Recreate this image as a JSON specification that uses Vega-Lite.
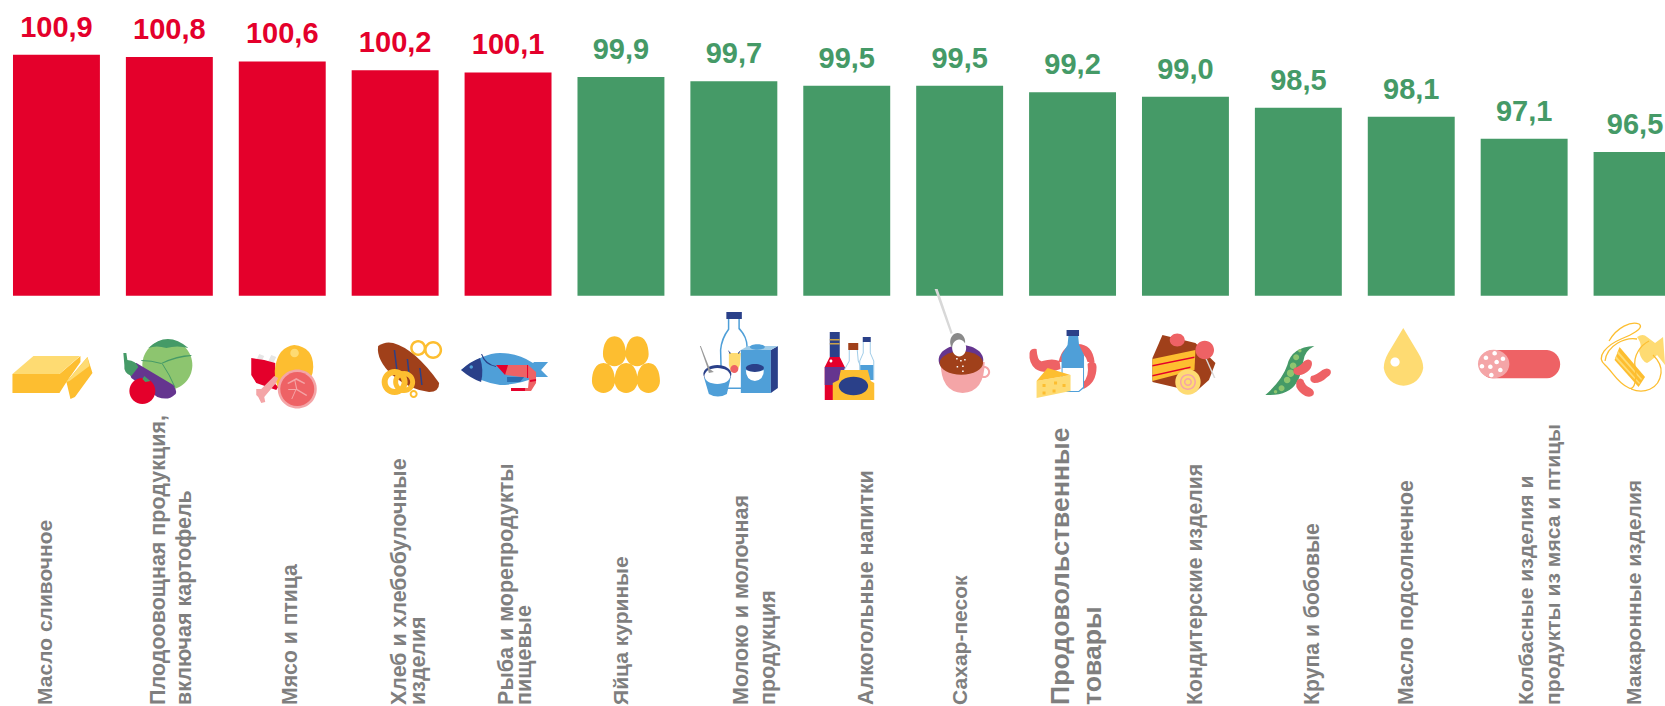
{
"$schema":"https://vega.github.io/schema/vega-lite/v6.json",
"width":1665,"height":706,"autosize":"none","padding":0,"background":"white",
"config":{"view":{"stroke":null},"font":"Liberation Sans"},
"datasets":{
"bars":[
{"rank":1,"category":"Масло сливочное","value":100.9,"text":"100,9","direction":"рост"},
{"rank":2,"category":"Плодоовощная продукция,\nвключая картофель","value":100.8,"text":"100,8","direction":"рост"},
{"rank":3,"category":"Мясо и птица","value":100.6,"text":"100,6","direction":"рост"},
{"rank":4,"category":"Хлеб и хлебобулочные\nизделия","value":100.2,"text":"100,2","direction":"рост"},
{"rank":5,"category":"Рыба и морепродукты\nпищевые","value":100.1,"text":"100,1","direction":"рост"},
{"rank":6,"category":"Яйца куриные","value":99.9,"text":"99,9","direction":"снижение"},
{"rank":7,"category":"Молоко и молочная\nпродукция","value":99.7,"text":"99,7","direction":"снижение"},
{"rank":8,"category":"Алкогольные напитки","value":99.5,"text":"99,5","direction":"снижение"},
{"rank":9,"category":"Сахар-песок","value":99.5,"text":"99,5","direction":"снижение"},
{"rank":10,"category":"Продовольственные\nтовары","value":99.2,"text":"99,2","direction":"снижение"},
{"rank":11,"category":"Кондитерские изделия","value":99.0,"text":"99,0","direction":"снижение"},
{"rank":12,"category":"Крупа и бобовые","value":98.5,"text":"98,5","direction":"снижение"},
{"rank":13,"category":"Масло подсолнечное","value":98.1,"text":"98,1","direction":"снижение"},
{"rank":14,"category":"Колбасные изделия и\nпродукты из мяса и птицы","value":97.1,"text":"97,1","direction":"снижение"},
{"rank":15,"category":"Макаронные изделия","value":96.5,"text":"96,5","direction":"снижение"}
],
"icons":[
{"category":"Масло сливочное","part":"but_d"},{"category":"Масло сливочное","part":"but_l"},
{"category":"Плодоовощная продукция,\nвключая картофель","part":"cab"},{"category":"Плодоовощная продукция,\nвключая картофель","part":"cabd"},{"category":"Плодоовощная продукция,\nвключая картофель","part":"egp"},{"category":"Плодоовощная продукция,\nвключая картофель","part":"stem"},{"category":"Плодоовощная продукция,\nвключая картофель","part":"tom"},{"category":"Плодоовощная продукция,\nвключая картофель","part":"leaf"},
{"category":"Мясо и птица","part":"btop"},{"category":"Мясо и птица","part":"ribs"},{"category":"Мясо и птица","part":"chick"},{"category":"Мясо и птица","part":"chih"},{"category":"Мясо и птица","part":"bone"},{"category":"Мясо и птица","part":"mring"},{"category":"Мясо и птица","part":"mein"},{"category":"Мясо и птица","part":"mvein"},
{"category":"Хлеб и хлебобулочные\nизделия","part":"pretz"},{"category":"Хлеб и хлебобулочные\nизделия","part":"bread"},{"category":"Хлеб и хлебобулочные\nизделия","part":"score"},{"category":"Хлеб и хлебобулочные\nизделия","part":"bagel"},
{"category":"Рыба и морепродукты\nпищевые","part":"fish"},{"category":"Рыба и морепродукты\nпищевые","part":"fhead"},{"category":"Рыба и морепродукты\nпищевые","part":"feye"},{"category":"Рыба и морепродукты\nпищевые","part":"shr"},{"category":"Рыба и морепродукты\nпищевые","part":"shrr"},{"category":"Рыба и морепродукты\nпищевые","part":"whisk"},{"category":"Рыба и морепродукты\nпищевые","part":"legs"},
{"category":"Яйца куриные","part":"eggs"},
{"category":"Молоко и молочная\nпродукция","part":"mbo"},{"category":"Молоко и молочная\nпродукция","part":"mbi"},{"category":"Молоко и молочная\nпродукция","part":"mcap"},{"category":"Молоко и молочная\nпродукция","part":"cow"},{"category":"Молоко и молочная\nпродукция","part":"nose"},{"category":"Молоко и молочная\nпродукция","part":"horn"},{"category":"Молоко и молочная\nпродукция","part":"cart"},{"category":"Молоко и молочная\nпродукция","part":"cars"},{"category":"Молоко и молочная\nпродукция","part":"cart_t"},{"category":"Молоко и молочная\nпродукция","part":"ccap"},{"category":"Молоко и молочная\nпродукция","part":"cupd"},{"category":"Молоко и молочная\nпродукция","part":"cupw"},{"category":"Молоко и молочная\nпродукция","part":"yog"},{"category":"Молоко и молочная\nпродукция","part":"yogd"},{"category":"Молоко и молочная\nпродукция","part":"yogw"},{"category":"Молоко и молочная\nпродукция","part":"yogs"},
{"category":"Алкогольные напитки","part":"wine"},{"category":"Алкогольные напитки","part":"wlab"},{"category":"Алкогольные напитки","part":"wneck"},{"category":"Алкогольные напитки","part":"wstr"},{"category":"Алкогольные напитки","part":"wdot"},{"category":"Алкогольные напитки","part":"b2o"},{"category":"Алкогольные напитки","part":"b2i"},{"category":"Алкогольные напитки","part":"b2c"},{"category":"Алкогольные напитки","part":"b3o"},{"category":"Алкогольные напитки","part":"b3i"},{"category":"Алкогольные напитки","part":"b3l"},{"category":"Алкогольные напитки","part":"b3c"},{"category":"Алкогольные напитки","part":"box"},{"category":"Алкогольные напитки","part":"boxe"},
{"category":"Сахар-песок","part":"spoon"},{"category":"Сахар-песок","part":"cupp"},{"category":"Сахар-песок","part":"cup"},{"category":"Сахар-песок","part":"hand"},{"category":"Сахар-песок","part":"cof"},{"category":"Сахар-песок","part":"spb"},{"category":"Сахар-песок","part":"sug"},{"category":"Сахар-песок","part":"sugd"},
{"category":"Продовольственные\nтовары","part":"saus"},{"category":"Продовольственные\nтовары","part":"mix_b"},{"category":"Продовольственные\nтовары","part":"mix_w"},{"category":"Продовольственные\nтовары","part":"mix_c"},{"category":"Продовольственные\nтовары","part":"chef"},{"category":"Продовольственные\nтовары","part":"chet"},{"category":"Продовольственные\nтовары","part":"cheh"},
{"category":"Кондитерские изделия","part":"cake"},{"category":"Кондитерские изделия","part":"layer"},{"category":"Кондитерские изделия","part":"strp"},{"category":"Кондитерские изделия","part":"stick"},{"category":"Кондитерские изделия","part":"cher"},{"category":"Кондитерские изделия","part":"roll"},{"category":"Кондитерские изделия","part":"swirl"},
{"category":"Крупа и бобовые","part":"pod"},{"category":"Крупа и бобовые","part":"peas"},{"category":"Крупа и бобовые","part":"beans"},
{"category":"Масло подсолнечное","part":"drop"},{"category":"Масло подсолнечное","part":"dropw"},
{"category":"Колбасные изделия и\nпродукты из мяса и птицы","part":"sal"},{"category":"Колбасные изделия и\nпродукты из мяса и птицы","part":"salf"},{"category":"Колбасные изделия и\nпродукты из мяса и птицы","part":"sald"},
{"category":"Макаронные изделия","part":"bow"},{"category":"Макаронные изделия","part":"pen"},{"category":"Макаронные изделия","part":"pens"}
]
},
"encoding":{
"x":{"field":"category","type":"nominal","axis":null,"sort":null,"scale":{"type":"band","range":[0,1693.5],"paddingInner":0.23,"paddingOuter":0.115,"domain":["Масло сливочное","Плодоовощная продукция,\nвключая картофель","Мясо и птица","Хлеб и хлебобулочные\nизделия","Рыба и морепродукты\nпищевые","Яйца куриные","Молоко и молочная\nпродукция","Алкогольные напитки","Сахар-песок","Продовольственные\nтовары","Кондитерские изделия","Крупа и бобовые","Масло подсолнечное","Колбасные изделия и\nпродукты из мяса и птицы","Макаронные изделия"]}}
},
"resolve":{"scale":{"color":"independent","shape":"independent"}},
"layer":[
{"data":{"name":"bars"},"mark":{"type":"bar"},
"encoding":{
"y":{"field":"value","type":"quantitative","axis":null,"scale":{"domain":[71.43,103.38],"nice":false,"zero":false}},
"y2":{"datum":90},
"color":{"field":"direction","type":"nominal","legend":null,"scale":{"domain":["рост","снижение"],"range":["#E4002B","#459A67"]}}
}},
{"data":{"name":"bars"},"mark":{"type":"text","font":"Liberation Sans","fontWeight":"bold","fontSize":29,"baseline":"alphabetic","align":"center","dy":-18,"dx":{"expr":"datum.rank==15?-2:0"}},
"encoding":{
"y":{"field":"value","type":"quantitative"},
"text":{"field":"text"},
"color":{"field":"direction","type":"nominal","legend":null,"scale":{"domain":["рост","снижение"],"range":["#E4002B","#459A67"]}}
}},
{"data":{"name":"bars"},"mark":{"type":"text","font":"Liberation Sans","fontWeight":"bold","color":"#7F7F7F","angle":270,"align":"left","baseline":"middle","lineBreak":"\n",
"fontSize":{"expr":"[21,21.5,21.2,21.4,21.5,21,21.5,21.4,21,26.6,21.2,21.2,21.3,21.1,21][datum.rank-1]"},
"lineHeight":{"expr":"[20,26,20,19,18,20,27,20,20,32,20,20,20,27.6,20][datum.rank-1]"},
"dy":{"expr":"[-10.5,-10.7,8.5,4.5,-1.5,1.5,8.5,20.5,1.5,-12,10.5,14.5,-4.5,2.5,-2.5][datum.rank-1]"}},
"encoding":{
"y":{"datum":71.48},
"text":{"field":"category"}
}},
{"data":{"name":"icons"},"mark":{"type":"point","filled":true,"size":4,"opacity":1,"strokeWidth":0},
"encoding":{
"y":{"datum":86.41},
"color":{"field":"part","type":"nominal","legend":null,"scale":{
"domain":["but_d","but_l","cab","cabd","egp","stem","tom","leaf","btop","ribs","chick","chih","bone","mring","mein","mvein","pretz","bread","score","bagel","fish","fhead","feye","shr","shrr","whisk","legs","eggs","mbo","mbi","mcap","cow","nose","horn","cart","cars","cart_t","ccap","cupd","cupw","yog","yogd","yogw","yogs","wine","wlab","wneck","wstr","wdot","b2o","b2i","b2c","b3o","b3i","b3l","b3c","box","boxe","spoon","cupp","cup","hand","cof","spb","sug","sugd","saus","mix_b","mix_w","mix_c","chef","chet","cheh","cake","layer","strp","stick","cher","roll","swirl","pod","peas","beans","drop","dropw","sal","salf","sald","bow","pen","pens"],
"range":["#FDBE30","#FEDB72","#8DC56F","#459A67","#65358F","#459A67","#E4002B","#459A67","#E6E6E6","#E4002B","#FDBE30","#FEDB72","#F4A5A7","#F4A5A7","#EE6265","#F4A5A7","#FDBE30","#A0401A","#2A4089","#FDBE30","#4F9FD8","#2A4089","#4F9FD8","#EE6265","#E4002B","#2A4089","#2A6DB0","#FDBE30","#4F9FD8","#FFFFFF","#2A4089","#FEDB72","#EE6265","#2A4089","#4F9FD8","#2A4089","#A0CCE8","#4F9FD8","#2A4089","#FFFFFF","#4F9FD8","#2A4089","#FFFFFF","#9A9A9A","#E4002B","#65358F","#2A4089","#C9A24A","#FFFFFF","#A0CCE8","#FFFFFF","#A0401A","#A0CCE8","#FFFFFF","#4F9FD8","#2A4089","#FDBE30","#2A4089","#D8D8D8","#65358F","#F4A5A7","#F4A5A7","#A0401A","#8A8A8A","#FFFFFF","#FFFFFF","#EE6265","#4F9FD8","#FFFFFF","#2A4089","#FEDB72","#FDBE30","#FDBE30","#A0401A","#FDBE30","#E4002B","#D8D8D8","#EE6265","#FEDB72","#F4A5A7","#459A67","#8DC56F","#EE6265","#FEDB72","#FFFFFF","#EE6265","#F4A5A7","#FFFFFF","#FEDB72","#FDBE30","#FEDB72"]}},
"shape":{"field":"part","type":"nominal","legend":null,"scale":{
"domain":["but_d","but_l","cab","cabd","egp","stem","tom","leaf","btop","ribs","chick","chih","bone","mring","mein","mvein","pretz","bread","score","bagel","fish","fhead","feye","shr","shrr","whisk","legs","eggs","mbo","mbi","mcap","cow","nose","horn","cart","cars","cart_t","ccap","cupd","cupw","yog","yogd","yogw","yogs","wine","wlab","wneck","wstr","wdot","b2o","b2i","b2c","b3o","b3i","b3l","b3c","box","boxe","spoon","cupp","cup","hand","cof","spb","sug","sugd","saus","mix_b","mix_w","mix_c","chef","chet","cheh","cake","layer","strp","stick","cher","roll","swirl","pod","peas","beans","drop","dropw","sal","salf","sald","bow","pen","pens"],
"range":[
"M-44,-1L3,-1L24,-19L24,-13L10,7L3,18L-44,18ZM31,-18L36,-2L18.5,22L14,24L10,7Z",
"M-44,-1L-23,-19L23.5,-19L3,-1ZM10,7L31,-18L33,-9L13,6Z",
"M-27,-10a25,25 0 1 0 50,0a25,25 0 1 0 -50,0z",
"M-21,-27Q-2,-45 19,-27Q8,-30 -3,-27Q-13,-30 -21,-27ZM-28,-15Q-18,-15 -8,-12Q8,-20 22,-20L22,-19Q8,-18 -8,-11Q-18,-14 -28,-14ZM-8,-12Q0,0 5,12L6,12Q1,0 -7,-12Z",
"M-41,-5Q-38,-12 -33,-12L4,10Q9,18 5,20Q-1,26 -12,22L-38,3Z",
"M-46,-22L-43,-22L-42,-15Q-33,-14 -31,-8L-38,1Q-46,-2 -45,-10Z",
"M-40,16a13,13 0 1 0 26,0a13,13 0 1 0 -26,0z",
"M-27,4L-25,1L-19,6L-24,7Z",
"M-23,-21L-18,-19L-21,-13L-26,-15ZM-11,-20L-6,-18L-9,-12L-14,-14Z",
"M-31,-17L-18,-15L-7,-12L-7,9L-4,12L-6,15L-26,8L-31,0Z",
"M12,-30Q31,-28 31,-8Q31,5 20,12L-4,14Q-9,0 -7,-8Q-4,-28 12,-30Z",
"M8,-22a4.3,4.3 0 1 0 8.6,0a4.3,4.3 0 1 0 -8.6,0z",
"M-26,14L-21,14L-8,1L-4,3L-7,9L-18,22L-17,27L-21,28L-24,22L-26,20Z",
"M-4.5,14a19.5,19.5 0 1 0 39,0a19.5,19.5 0 1 0 -39,0z",
"M-2,14a17,17 0 1 0 34,0a17,17 0 1 0 -34,0z",
"M5,8L14,3L23,8L22,9L14,5L6,9ZM13,5L15,14L25,20L24,21L14,15L12,5ZM6,14L14,14L14,15L10,24L9,24L13,15L6,15Z",
"M15,-27a8,8 0 1 0 16,0a8,8 0 1 0 -16,0zM17.5,-27a5.5,5.5 0 1 1 11,0a5.5,5.5 0 1 1 -11,0zM29,-25a9,9 0 1 0 18,0a9,9 0 1 0 -18,0zM31.5,-25a6.5,6.5 0 1 1 13,0a6.5,6.5 0 1 1 -13,0z",
"M-17,-29Q-10,-34 -2,-32Q20,-26 44,8Q44,17 34,17Q15,15 -3,0Q-19,-15 -17,-29Z",
"M-1.5,-25L0,-25L2.5,-5L1,-5ZM11.5,-16L13,-16L14.5,-2L13,-2ZM24,-7L25.5,-7L27.5,10L26,10Z",
"M-13.5,7a13,13 0 1 0 26,0a13,13 0 1 0 -26,0zM-7.5,7a7,7 0 1 1 14,0a7,7 0 1 1 -14,0zM-2,7a11,11 0 1 0 22,0a11,11 0 1 0 -22,0zM3,7a6,6 0 1 1 12,0a6,6 0 1 1 -12,0zM14.5,19a4,4 0 1 0 8,0a4,4 0 1 0 -8,0zM16.5,19a2,2 0 1 1 4,0a2,2 0 1 1 -4,0z",
"M-47,-5Q-25,-22 -8,-22Q10,-22 25,-12L26,-13L40,-13L33,-5L40,2L28,2Q10,10 -8,10Q-25,8 -47,-5Z",
"M-47,-5Q-37,-14 -28,-17Q-24,-5 -27,7Q-38,3 -47,-5Z",
"M-38.5,-8a1.7,1.7 0 1 0 3.4,0a1.7,1.7 0 1 0 -3.4,0z",
"M-12,-10L20,-10L28,-3L28,8L23,16L3,16L3,13L20,13L21,3L-2,0Z",
"M-12,-10L0,-10L-3,0ZM3,13L17,13L17,16L3,16ZM19,-10L20,-10L20,3L19,3ZM22,5L28,4L28,6L22,7Z",
"M-26,-21Q-22,-11 -12,-9L-12,-8Q-24,-10 -27,-21Z",
"M-1,2L16,2L12,7L-1,7Z",
"M-6.5,-38.7c8,0 11.5,9 11.5,18c0,7 -5.5,12 -11.5,12c-6,0 -11.5,-5 -11.5,-12c0,-9 3.5,-18 11.5,-18zM16.2,-38.7c8,0 11.5,9 11.5,18c0,7 -5.5,12 -11.5,12c-6,0 -11.5,-5 -11.5,-12c0,-9 3.5,-18 11.5,-18zM-17.5,-12c8,0 11.5,9 11.5,18c0,7 -5.5,12 -11.5,12c-6,0 -11.5,-5 -11.5,-12c0,-9 3.5,-18 11.5,-18zM5.2,-12c8,0 11.5,9 11.5,18c0,7 -5.5,12 -11.5,12c-6,0 -11.5,-5 -11.5,-12c0,-9 3.5,-18 11.5,-18zM27.5,-12c8,0 11.5,9 11.5,18c0,7 -5.5,12 -11.5,12c-6,0 -11.5,-5 -11.5,-12c0,-9 3.5,-18 11.5,-18z",
"M-6,-57L6,-57L6,-47Q14,-38 14,-28L14,14L-13,14L-14,-25Q-13,-37 -6,-46Z",
"M-4.5,-56L4.5,-56L4.5,-46Q12.5,-38 12.5,-28L12.5,12.5L-11.5,12.5L-12.5,-25Q-11.5,-36 -4.5,-45.5Z",
"M-7.5,-63L8,-63L8,-56L-7.5,-56Z",
"M-5,-22L7,-22L6,-10L3,-3L-3,-3L-5,-10Z",
"M-3.5,-6a4,4 0 1 0 8,0a4,4 0 1 0 -8,0z",
"M-6,-25L-3,-22L-4,-21ZM7,-25L5,-21L4,-22Z",
"M7,-25L37,-25L37,18L7,18Z",
"M37,-25L44,-29L44,13L37,18Z",
"M7,-25L14,-29L44,-29L37,-25Z",
"M16,-28a7.5,2.7 0 1 0 15,0a7.5,2.7 0 1 0 -15,0z",
"M12,-7a9,4 0 1 0 18,0a9,4 0 1 0 -18,0z",
"M12,-5Q21,-1 30,-5Q30,5 21,6Q12,5 12,-5Z",
"M-30,2L-3,2L-7,19Q-16,24 -25,19Z",
"M-30.5,-1a14,9 0 1 0 28,0a14,9 0 1 0 -28,0z",
"M-29.5,1a13,8 0 1 0 26,0a13,8 0 1 0 -26,0z",
"M-34,-29L-33,-29L-24,-6L-20,-3L-25,-2L-26,-6Z",
"M-17,-18L-7,-18L-2,-8L-2,25L-22,25L-22,-8Z",
"M-22,-8L-2,-8L-2,10L-22,10Z",
"M-17,-43L-7,-43L-7,-18L-17,-18Z",
"M-17,-36L-7,-36L-7,-34.5L-17,-34.5ZM-17,-32L-7,-32L-7,-30.5L-17,-30.5Z",
"M-17.3,-14a1.5,1.5 0 1 0 3,0a1.5,1.5 0 1 0 -3,0z",
"M2,-25L11,-25L12,-14L16,-5L16,5L-4,5L-3,-5L2,-14Z",
"M3,-25L10,-25L11,-14L15,-5L15,5L-3,5L-2,-5L3,-14Z",
"M1.5,-32L11.5,-32L11.5,-25L1.5,-25Z",
"M16,-33L24,-33L24,-22L27.5,-14L27.5,5L12.5,5L12.5,-14L16,-22Z",
"M17,-33L23,-33L23,-22L26.5,-14L26.5,5L13.5,5L13.5,-14L17,-22Z",
"M13.5,-10L26.5,-10L26.5,5L13.5,5Z",
"M16,-38L24,-38L24,-33L16,-33Z",
"M-14,25L-14,8L-8,5L-6,-5L21,-5L24,6L27.5,8L27.5,25Z",
"M-8,11a14.7,9.3 0 1 0 29.4,0a14.7,9.3 0 1 0 -29.4,0z",
"M-25,-86L-22,-86L-7,-42L-9,-41Z",
"M-21,-15a22.3,15 0 1 0 44.6,0a22.3,15 0 1 0 -44.6,0z",
"M-19,-13L25,-13Q25,17 3,18Q-19,17 -19,-13Z",
"M18.5,-3a6,6 0 1 0 12,0a6,6 0 1 0 -12,0zM20.5,-3a4,4 0 1 1 8,0a4,4 0 1 1 -8,0z",
"M-20,-12a21.7,11.7 0 1 0 43.4,0a21.7,11.7 0 1 0 -43.4,0z",
"M-9.5,-33a7.5,9 0 1 0 15,0a7.5,9 0 1 0 -15,0z",
"M-7.5,-27a7,8.5 0 1 0 14,0a7,8.5 0 1 0 -14,0z",
"M-3.5,-17h1.5v1.5h-1.5zM.5,-15h1.5v1.5h-1.5zM4.5,-16h1.5v1.5h-1.5zM-3,-9h1.5v1.5h-1.5zM2.5,-9.5h1.5v1.5h-1.5zM2.5,-4.5h1.5v1.5h-1.5z",
"M-43,-22Q-42,-27 -36,-26Q-35,-12 -30,-14Q-20,-17 -13,-14L-12,-6Q-28,0 -37,-6Q-44,-12 -43,-22ZM-14,-13Q-10,-31 5,-31Q20,-31 22,-13L15,-13Q12,-23 5,-23Q-4,-23 -8,-13ZM17,-13Q24,-14 24,-8Q24,8 11,14L10,8Q17,2 15,-11Z",
"M-4,-40L5.5,-40L6.5,-30L11.5,-20L11.5,13L6.5,17L-6,17L-11,13L-11,-20L-5,-30Z",
"M-10,-7L10.5,-7L10.5,12L6,16L-6,16L-10,12Z",
"M-6,-45L6.5,-45L6.5,-39L-6,-39Z",
"M-36,6L-2,0L-2,16L-36,23Z",
"M-36,6L-25,-7L-2,0Z",
"M-30,9h3v3h-3zM-18.5,6.5h3v3h-3zM-10,9h3v3h-3zM-20,14.5h3v3h-3zM-30,16.5h3v3h-3z",
"M-23,-40L10,-32L30,-12L23.5,5L10,17L-33,7L-33,-17Z",
"M-33,-16L10,-25L9,-5L-33,6Z",
"M-33,-10L9,-18.5L9,-17L-33,-8.5ZM-33,0L5,-8.5L5,-7L-33,1.5Z",
"M20,-16L21.5,-16L30,3L28.5,3Z",
"M-15.7,-35a7.5,6.5 0 1 0 15,0a7.5,6.5 0 1 0 -15,0zM10,-25a9.3,9.3 0 1 0 18.6,0a9.3,9.3 0 1 0 -18.6,0z",
"M-10.2,7a12.7,12.7 0 1 0 25.4,0a12.7,12.7 0 1 0 -25.4,0z",
"M-5.5,7a8,8 0 1 0 16,0a8,8 0 1 0 -16,0zM-4,7a6.5,6.5 0 1 1 13,0a6.5,6.5 0 1 1 -13,0zM-1.5,7a4,4 0 1 0 8,0a4,4 0 1 0 -8,0zM0,7a2.5,2.5 0 1 1 5,0a2.5,2.5 0 1 1 -5,0z",
"M-33,20Q-16,5 -11,-10Q-7,-28 16,-29Q6,-24 5,-14Q2,3 -2,8Q-10,21 -33,20Z",
"M-0.2,-24.3a1.7,1.7 0 1 0 3.4,0a1.7,1.7 0 1 0 -3.4,0zM-5.2,-17.7a3,3 0 1 0 6,0a3,3 0 1 0 -6,0zM-8.5,-9.3a3.3,3.3 0 1 0 6.6,0a3.3,3.3 0 1 0 -6.6,0zM-11.5,-1.7a3.7,3.7 0 1 0 7.4,0a3.7,3.7 0 1 0 -7.4,0zM-14.5,5a3.3,3.3 0 1 0 6.6,0a3.3,3.3 0 1 0 -6.6,0zM-19.8,13.3a3,3 0 1 0 6,0a3,3 0 1 0 -6,0zM-24.5,16.7a1.7,1.7 0 1 0 3.4,0a1.7,1.7 0 1 0 -3.4,0z",
"M-4,-7Q1,-8 6,-14Q10,-17 13,-14Q15,-10 11,-5Q5,1 -1,0Q-5,-1 -5,-4Q-5,-6 -4,-7ZM13,1Q18,0 24,-5Q29,-8 32,-5Q34,-1 29,2Q23,8 16,8Q12,7 12,4Q12,2 13,1ZM-1,5Q2,2 5,5Q6,10 12,13Q17,16 15,20Q12,23 7,21Q1,18 -2,12Q-3,8 -1,5Z",
"M-8,-47L7,-22Q12,-14 12,-7A20,21 0 0 1 -27.5,-7Q-27.5,-14 -23,-22Z",
"M-20.8,-13a4.6,4.6 0 1 0 9.2,0a4.6,4.6 0 1 0 -9.2,0z",
"M-32,-25L23,-25A14.2,14.2 0 0 1 23,3.3L-32,3.3A14.2,14.2 0 0 1 -32,-25Z",
"M-46.2,-11a15.7,14.2 0 1 0 31.4,0a15.7,14.2 0 1 0 -31.4,0z",
"M-40.5,-17.3a2.3,2.3 0 1 0 4.6,0a2.3,2.3 0 1 0 -4.6,0zM-31.8,-21.7a2.3,2.3 0 1 0 4.6,0a2.3,2.3 0 1 0 -4.6,0zM-23.5,-16.3a2.3,2.3 0 1 0 4.6,0a2.3,2.3 0 1 0 -4.6,0zM-29.8,-13a2.3,2.3 0 1 0 4.6,0a2.3,2.3 0 1 0 -4.6,0zM-44.5,-8.7a2.3,2.3 0 1 0 4.6,0a2.3,2.3 0 1 0 -4.6,0zM-36.1,-8.3a2.3,2.3 0 1 0 4.6,0a2.3,2.3 0 1 0 -4.6,0zM-26.1,-5a2.3,2.3 0 1 0 4.6,0a2.3,2.3 0 1 0 -4.6,0zM-35.1,0a2.3,2.3 0 1 0 4.6,0a2.3,2.3 0 1 0 -4.6,0z",
"M0,-38Q6,-42 10,-38L18,-32L26,-38L28,-10L20,-20Q14,-14 10,-12Q4,-14 2,-24Q6,-30 0,-38Z",
"M-17.5,-28L8,2L1.5,12L-22.5,-15Z",
"M-19,-24L5,4L4,5L-20,-22ZM-21,-19L3,8L2,9L-22,-17Z"
]}}
}},
{"data":{"values":[{"category":"Макаронные изделия"}]},"mark":{"type":"point","filled":false,"size":4,"opacity":1,"stroke":"#FDBE30","strokeWidth":1.3,"shape":"M-28,-34C-20,-48 -6,-54 2,-51C8,-47 -6,-40 -16,-36C-30,-30 -42,-18 -32,-10C-24,-3 -20,8 -8,13C-2,16 0,2 -2,-8C-4,-20 4,-30 12,-34M-32,-14C-30,-30 -12,-38 0,-36M-6,14C6,19 22,15 24,-2C25,-10 20,-16 16,-20"},
"encoding":{"y":{"datum":86.41}}}
]
}
